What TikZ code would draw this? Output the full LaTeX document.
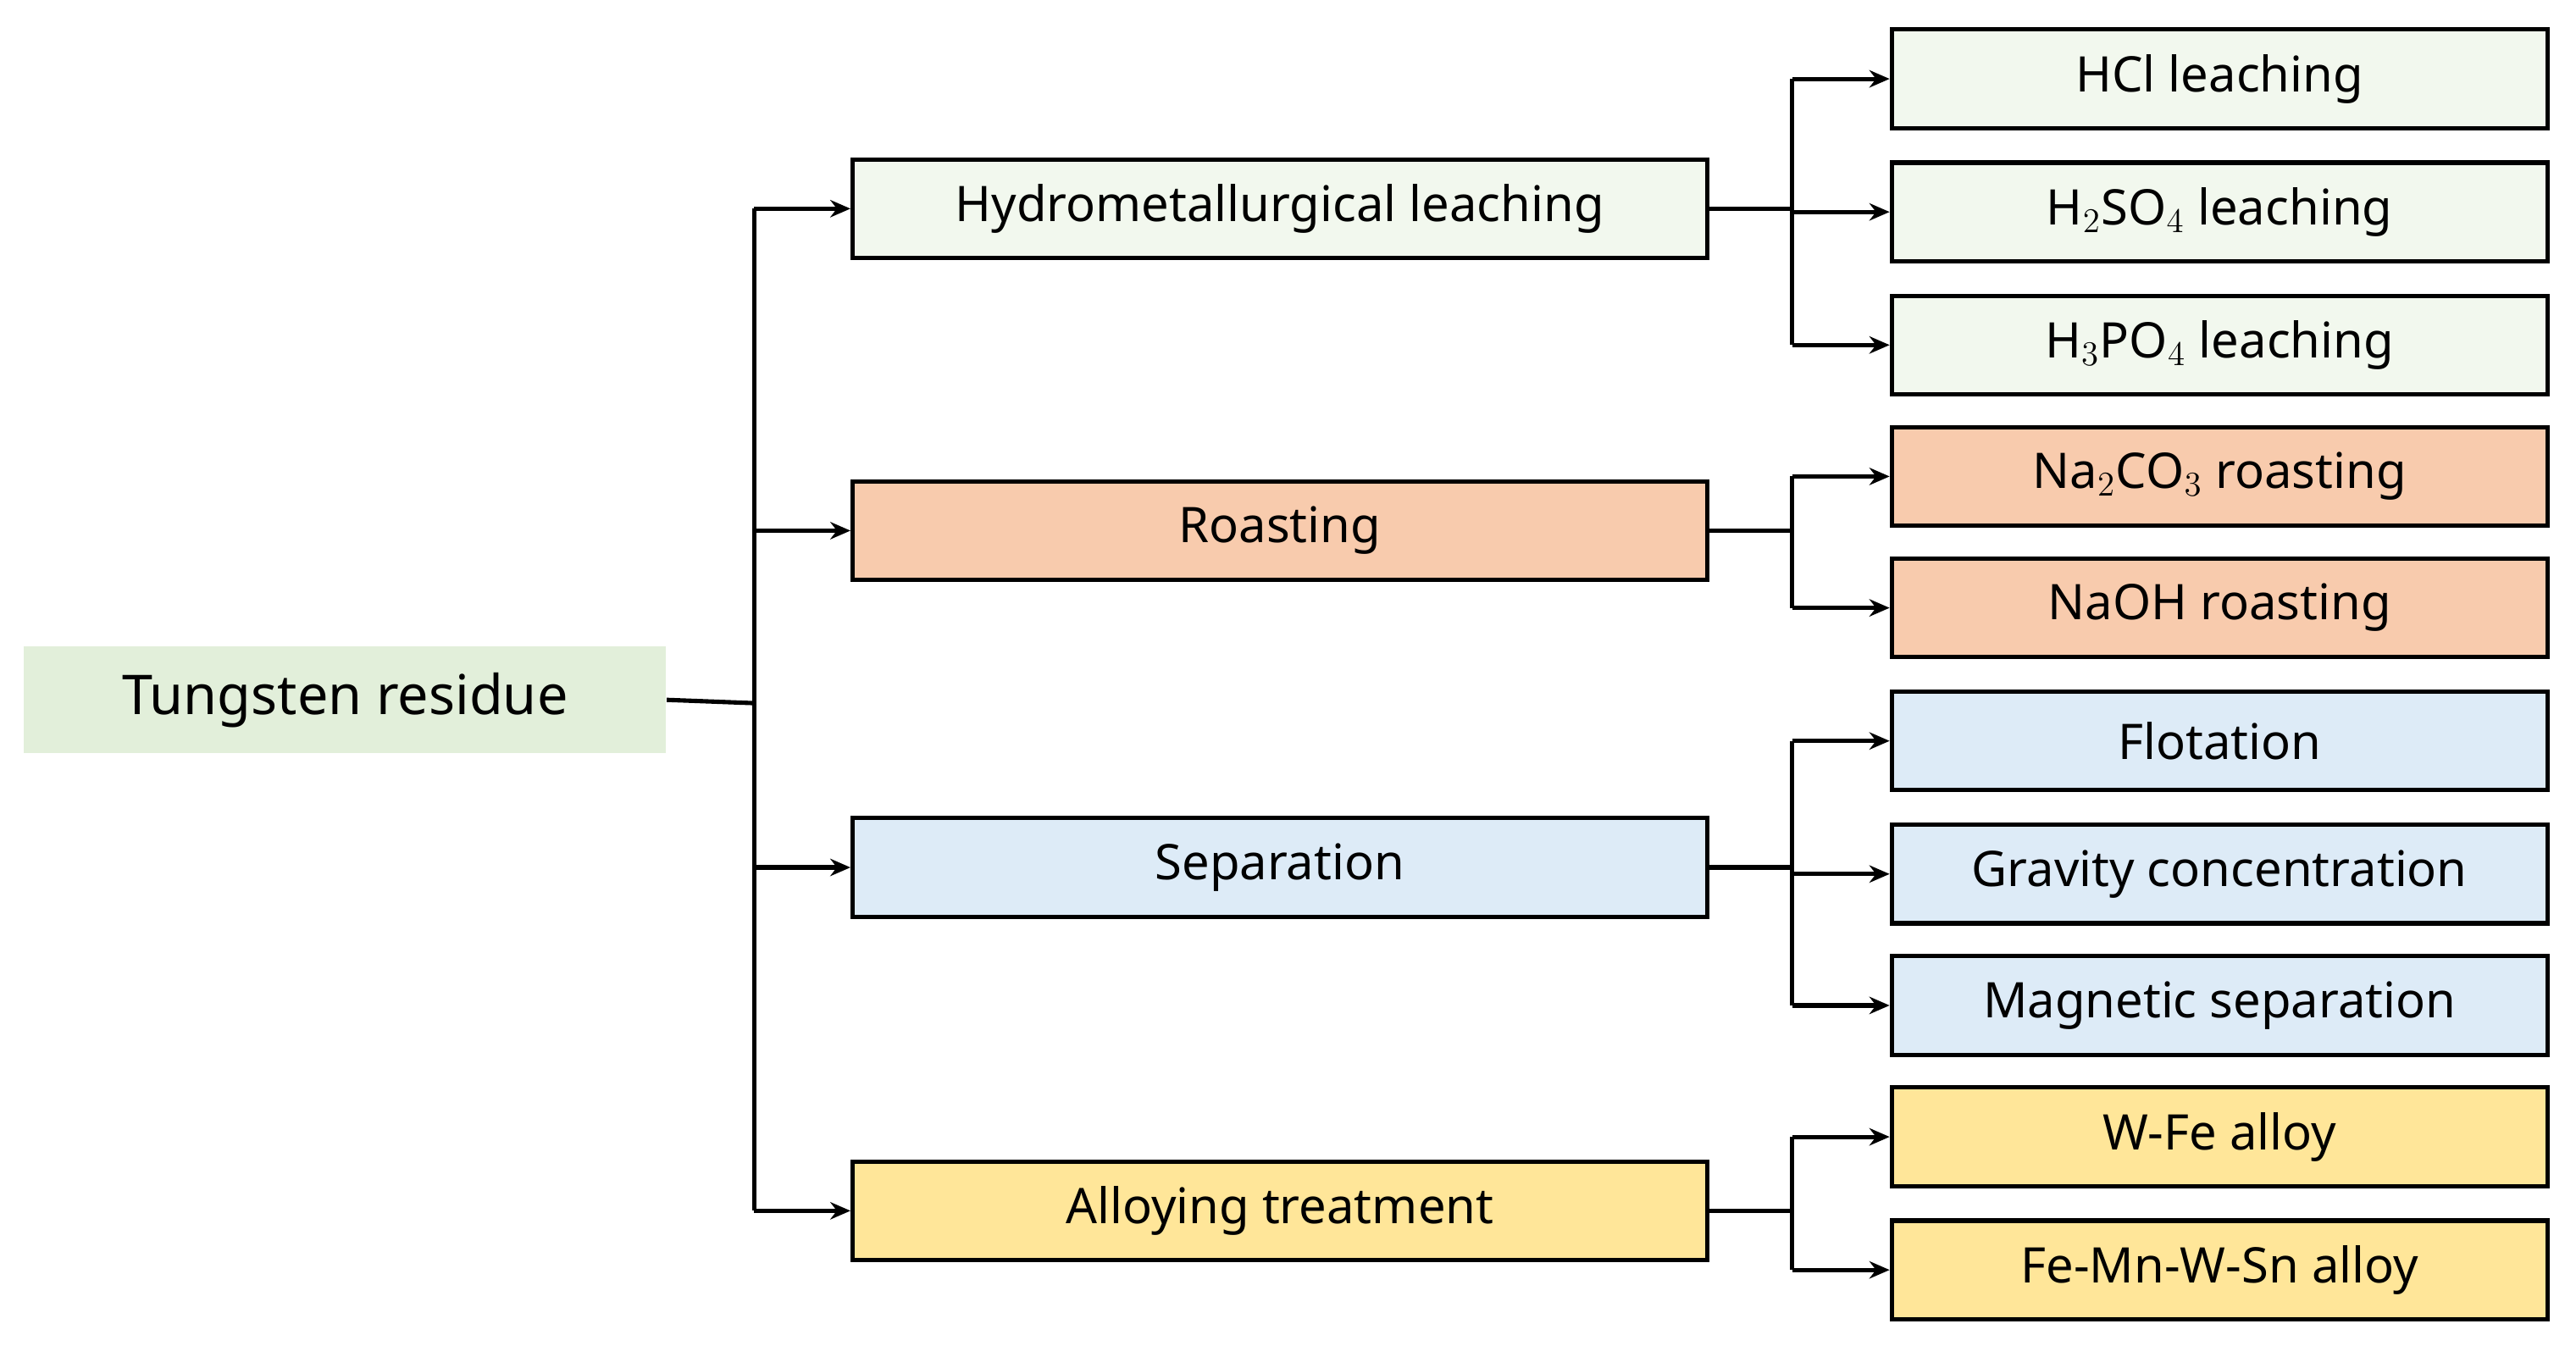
\documentclass[tikz,border=0pt]{standalone}
\usepackage{fontspec}
\setmainfont{Noto Sans}
\usetikzlibrary{arrows.meta}
\definecolor{cg}{HTML}{F2F8EE}
\definecolor{cr}{HTML}{E2EFDA}
\definecolor{co}{HTML}{F8CBAD}
\definecolor{cb}{HTML}{DDEBF7}
\definecolor{cy}{HTML}{FFE699}
\begin{document}
\begin{tikzpicture}[x=0.02cm,y=-0.02cm,
  txt/.style={font=\fontsize{17}{20}\selectfont},
  mid/.style={txt,draw=black,line width=1.5pt,minimum width=520*0.02cm,minimum height=60*0.02cm,inner sep=0pt},
  leaf/.style={txt,draw=black,line width=1.5pt,minimum width=399*0.02cm,minimum height=60*0.02cm,inner sep=0pt},
  ln/.style={line width=1.5pt},
  ar/.style={line width=1.5pt,-{Stealth[length=7pt,width=6pt]}}]
\useasboundingbox (0,0) rectangle (1568,819);
\node[txt,fill=cr,minimum width=391*0.02cm,minimum height=65*0.02cm,font=\fontsize{19}{22}\selectfont] (root) at (210,426) {Tungsten residue};
\node[mid,fill=cg] (h) at (779,127) {Hydrometallurgical leaching};
\node[mid,fill=co] (r) at (779,323) {Roasting};
\node[mid,fill=cb] (s) at (779,528) {Separation};
\node[mid,fill=cy] (a) at (779,737) {Alloying treatment};
\node[leaf,fill=cg] (l1) at (1351,48) {HCl leaching};
\node[leaf,fill=cg] (l2) at (1351,129) {H$_2$SO$_4$ leaching};
\node[leaf,fill=cg] (l3) at (1351,210) {H$_3$PO$_4$ leaching};
\node[leaf,fill=co] (l4) at (1351,290) {Na$_2$CO$_3$ roasting};
\node[leaf,fill=co] (l5) at (1351,370) {NaOH roasting};
\node[leaf,fill=cb] (l6) at (1351,451) {Flotation};
\node[leaf,fill=cb] (l7) at (1351,532) {Gravity concentration};
\node[leaf,fill=cb] (l8) at (1351,612) {Magnetic separation};
\node[leaf,fill=cy] (l9) at (1351,692) {W-Fe alloy};
\node[leaf,fill=cy] (l10) at (1351,773) {Fe-Mn-W-Sn alloy};
\coordinate (t) at (459,428);
\draw[ln] (root.east) -- (t);
\draw[ln] (459,127) -- (459,737);
\foreach \n in {h,r,s,a} \draw[ar] (459,0 |- \n.west) -- (\n.west);
\foreach \p/\a/\b in {h/l1/l3,r/l4/l5,s/l6/l8,a/l9/l10}{
  \draw[ln] (\p.east) -- (1091,0 |- \p.east);
  \draw[ln] (1091,0 |- \a.west) -- (1091,0 |- \b.west);
}
\foreach \n in {l1,l2,l3,l4,l5,l6,l7,l8,l9,l10} \draw[ar] (1091,0 |- \n.west) -- (\n.west);
\end{tikzpicture}
\end{document}
